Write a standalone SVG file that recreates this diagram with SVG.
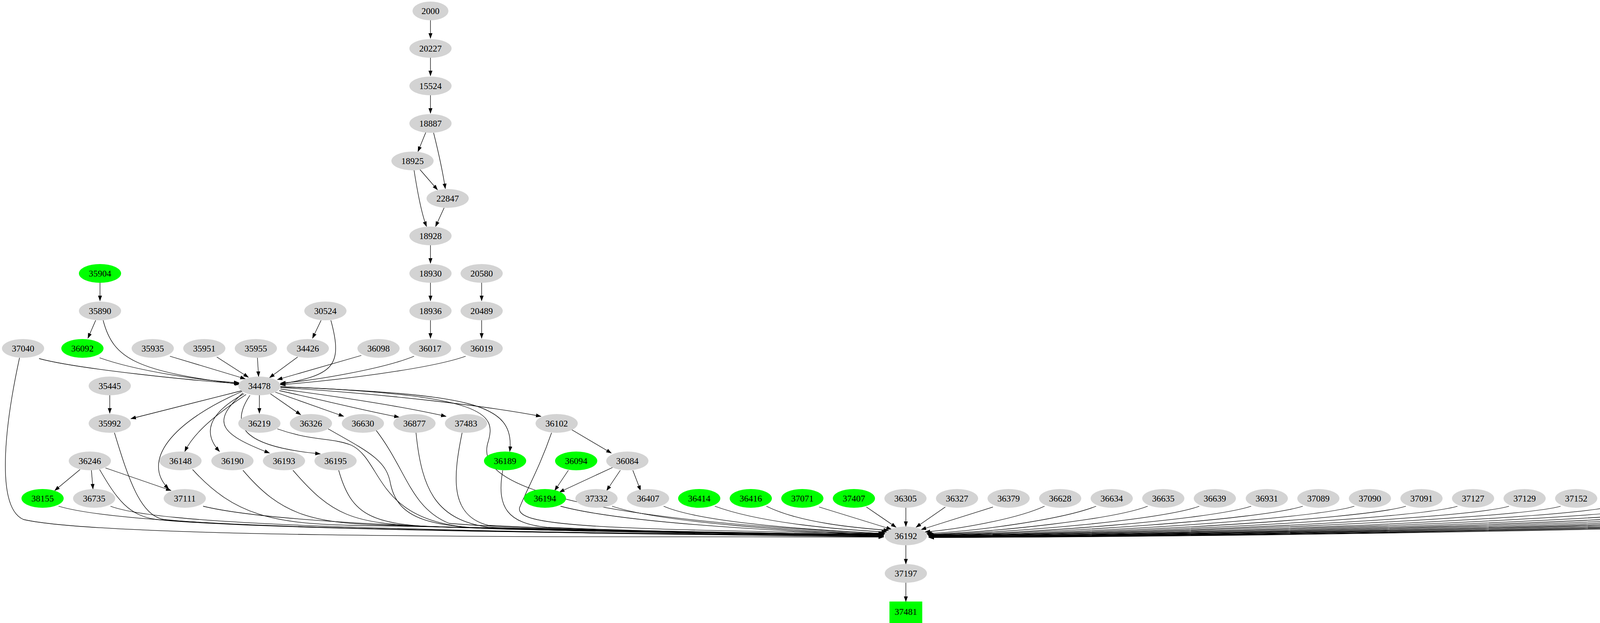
<svg xmlns="http://www.w3.org/2000/svg" width="5678" height="1595" viewBox="0 0 5678 1595">
<style>
.n ellipse{fill:#d3d3d3;stroke:none}
.g ellipse,.g rect{fill:#00ff00;stroke:none}
text{font-family:"Liberation Serif",serif;font-size:23px;text-anchor:middle;fill:#000}
#edges path{fill:none;stroke:#000;stroke-width:1.3;marker-end:url(#ah)}
</style>
<defs>
<marker id="ah" markerUnits="userSpaceOnUse" markerWidth="14" markerHeight="10" refX="13" refY="5" orient="auto"><path d="M0,0 L14,5 L0,10 z" fill="#000"/></marker>
</defs>
<rect width="5678" height="1595" fill="#fff"/>
<g id="edges">
<path d="M1102,52 L1102,98"/>
<path d="M1102,148 L1102,194"/>
<path d="M1102,244 L1102,290"/>
<path d="M1090,339 L1070,388"/>
<path d="M1110,340 C1125,400 1135,450 1140,483"/>
<path d="M1075,434 L1120,486"/>
<path d="M1060,436 C1070,500 1080,550 1092,580"/>
<path d="M1137,532 L1115,580"/>
<path d="M1102,628 L1102,674"/>
<path d="M1102,724 L1102,770"/>
<path d="M1102,820 L1102,866"/>
<path d="M1233,724 L1233,770"/>
<path d="M1233,820 L1233,866"/>
<path d="M256,724 L256,770"/>
<path d="M245,820 L225,866"/>
<path d="M264,820 C290,920 350,950 614,984"/>
<path d="M822,820 L800,866"/>
<path d="M847,820 C880,940 850,960 716,984"/>
<path d="M100,918 C200,945 500,975 612,982"/>
<path d="M255,916 C350,950 520,975 612,980"/>
<path d="M435,912 L628,970"/>
<path d="M555,914 L636,966"/>
<path d="M659,916 L662,964"/>
<path d="M762,914 L690,967"/>
<path d="M925,910 L710,972"/>
<path d="M1060,912 C980,945 800,975 718,981"/>
<path d="M1192,912 C1100,945 850,975 718,985"/>
<path d="M281,1012 L281,1058"/>
<path d="M620,1000 C500,1030 400,1055 335,1072"/>
<path d="M664,1012 L664,1058"/>
<path d="M692,1008 L770,1062"/>
<path d="M705,1004 L880,1066"/>
<path d="M715,1000 C850,1030 950,1055 1022,1068"/>
<path d="M718,996 C900,1020 1050,1045 1142,1066"/>
<path d="M718,992 C1000,1010 1250,1040 1385,1066"/>
<path d="M630,1010 C570,1050 500,1100 473,1156"/>
<path d="M625,1008 C530,1060 520,1110 562,1156"/>
<path d="M622,1006 C540,1080 560,1110 690,1160"/>
<path d="M640,1012 C580,1100 640,1145 820,1162"/>
<path d="M718,990 C1200,1010 1320,1030 1305,1156"/>
<path d="M620,1002 C440,1080 360,1180 432,1252"/>
<path d="M1460,1098 L1565,1160"/>
<path d="M1570,1196 L1432,1260"/>
<path d="M1455,1204 L1420,1256"/>
<path d="M1588,1204 L1553,1256"/>
<path d="M1620,1204 L1640,1256"/>
<path d="M205,1202 L140,1256"/>
<path d="M234,1204 L238,1252"/>
<path d="M270,1198 L438,1256"/>
<path d="M2319,1396 L2319,1444"/>
<path d="M2319,1492 L2319,1540"/>
<path d="M718,990 C1250,1010 1270,1060 1250,1130 C1230,1190 1240,1320 2262,1366"/>
<path d="M50,916 C10,1100 -10,1300 60,1330 C300,1385 1800,1372 2262,1375"/>
<path d="M255,1202 C300,1280 330,1320 400,1330 C700,1360 1900,1370 2262,1373"/>
<path d="M293,1108 C330,1230 360,1320 420,1330 C700,1360 1900,1368 2262,1371"/>
<path d="M493,1202 C600,1320 700,1340 900,1345 C1500,1360 2000,1368 2262,1370"/>
<path d="M622,1204 C720,1320 800,1340 1000,1345 C1500,1360 2000,1368 2262,1370"/>
<path d="M750,1204 C850,1320 900,1340 1100,1348 C1500,1360 2000,1368 2262,1369"/>
<path d="M867,1204 C900,1320 950,1345 1150,1350 C1550,1360 2000,1368 2262,1369"/>
<path d="M710,1098 C800,1130 850,1120 900,1140 C980,1180 960,1330 1200,1350 C1600,1362 2000,1368 2262,1368"/>
<path d="M840,1098 C950,1160 990,1180 1000,1240 C1020,1330 1100,1350 1300,1355 C1700,1364 2000,1368 2262,1368"/>
<path d="M960,1098 C1040,1200 1050,1300 1150,1340 C1400,1360 2000,1368 2262,1367"/>
<path d="M1065,1108 C1080,1260 1120,1330 1250,1350 C1600,1362 2000,1367 2262,1367"/>
<path d="M1183,1108 C1160,1220 1150,1320 1250,1345 C1600,1362 2000,1367 2262,1367"/>
<path d="M1287,1204 C1270,1300 1300,1340 1400,1350 C1700,1362 2000,1367 2262,1367"/>
<path d="M1412,1108 C1380,1200 1350,1250 1330,1300 C1320,1345 1500,1355 2262,1366"/>
<path d="M150,1296 C300,1340 800,1360 2262,1374"/>
<path d="M283,1296 C400,1340 900,1360 2262,1373"/>
<path d="M520,1296 C700,1340 1200,1360 2262,1372"/>
<path d="M1435,1296 C1600,1340 2000,1360 2262,1370"/>
<path d="M1567,1296 C1700,1340 2050,1360 2264,1368"/>
<path d="M1699,1296 C1800,1340 2100,1358 2266,1366"/>
<path d="M1830,1296 C1950,1340 2150,1356 2270,1362"/>
<path d="M1962,1296 C2050,1340 2200,1352 2275,1358"/>
<path d="M2097,1298 L2282,1355"/>
<path d="M2218,1298 L2294,1350"/>
<path d="M2319,1300 L2319,1348"/>
<path d="M2420,1298 L2345,1350"/>
<path d="M2542,1298 L2358,1356"/>
<path d="M2674,1296 C2600,1330 2450,1355 2368,1362"/>
<path d="M2806,1296 C2720,1330 2500,1360 2372,1366"/>
<path d="M2938,1296 C2850,1330 2550,1362 2374,1368"/>
<path d="M3070,1296 C2980,1330 2600,1364 2375,1369"/>
<path d="M3203,1296 C3100,1330 2650,1366 2376,1370"/>
<path d="M3335,1296 C3230,1330 2700,1367 2376,1370"/>
<path d="M3467,1296 C3360,1330 2750,1368 2377,1371"/>
<path d="M3599,1296 C3490,1330 2800,1369 2377,1371"/>
<path d="M3731,1296 C3620,1330 2850,1369 2377,1372"/>
<path d="M3863,1296 C3750,1330 2900,1370 2378,1372"/>
<path d="M3995,1296 C3880,1330 2950,1370 2378,1372"/>
<path d="M4127,1296 C4010,1330 3000,1371 2378,1373"/>
<path d="M4258,1296 C4140,1330 3050,1371 2378,1373"/>
<path d="M4390,1296 C4270,1330 3100,1372 2378,1373"/>
<path d="M4522,1296 C4400,1330 3150,1372 2378,1374"/>
<path d="M4654,1296 C4530,1330 3200,1372 2378,1374"/>
<path d="M4786,1296 C4660,1330 3250,1373 2378,1374"/>
<path d="M4918,1296 C4790,1330 3300,1373 2378,1375"/>
<path d="M5050,1296 C4920,1330 3350,1373 2378,1375"/>
<path d="M5182,1296 C5050,1330 3400,1374 2378,1375"/>
<path d="M5314,1296 C5180,1330 3450,1374 2378,1376"/>
<path d="M5446,1296 C5310,1330 3500,1374 2378,1376"/>
<path d="M5578,1296 C5440,1330 3550,1375 2378,1376"/>
</g>
<g id="n2000" class="n"><ellipse cx="1102" cy="28" rx="46" ry="24"/><text x="1102" y="36">2000</text></g>
<g id="n20227" class="n"><ellipse cx="1102" cy="124" rx="54" ry="24"/><text x="1102" y="132">20227</text></g>
<g id="n15524" class="n"><ellipse cx="1102" cy="220" rx="54" ry="24"/><text x="1102" y="228">15524</text></g>
<g id="n18887" class="n"><ellipse cx="1102" cy="316" rx="54" ry="24"/><text x="1102" y="324">18887</text></g>
<g id="n18925" class="n"><ellipse cx="1056" cy="412" rx="54" ry="24"/><text x="1056" y="420">18925</text></g>
<g id="n22847" class="n"><ellipse cx="1146" cy="508" rx="54" ry="24"/><text x="1146" y="516">22847</text></g>
<g id="n18928" class="n"><ellipse cx="1102" cy="604" rx="54" ry="24"/><text x="1102" y="612">18928</text></g>
<g id="n18930" class="n"><ellipse cx="1102" cy="700" rx="54" ry="24"/><text x="1102" y="708">18930</text></g>
<g id="n35904" class="g"><ellipse cx="256" cy="700" rx="54" ry="24"/><text x="256" y="708">35904</text></g>
<g id="n20580" class="n"><ellipse cx="1233" cy="700" rx="54" ry="24"/><text x="1233" y="708">20580</text></g>
<g id="n35890" class="n"><ellipse cx="256" cy="796" rx="54" ry="24"/><text x="256" y="804">35890</text></g>
<g id="n30524" class="n"><ellipse cx="833" cy="796" rx="54" ry="24"/><text x="833" y="804">30524</text></g>
<g id="n18936" class="n"><ellipse cx="1102" cy="796" rx="54" ry="24"/><text x="1102" y="804">18936</text></g>
<g id="n20489" class="n"><ellipse cx="1233" cy="796" rx="54" ry="24"/><text x="1233" y="804">20489</text></g>
<g id="n37040" class="n"><ellipse cx="59" cy="892" rx="54" ry="24"/><text x="59" y="900">37040</text></g>
<g id="n36092" class="g"><ellipse cx="211" cy="892" rx="54" ry="24"/><text x="211" y="900">36092</text></g>
<g id="n35935" class="n"><ellipse cx="391" cy="892" rx="54" ry="24"/><text x="391" y="900">35935</text></g>
<g id="n35951" class="n"><ellipse cx="523" cy="892" rx="54" ry="24"/><text x="523" y="900">35951</text></g>
<g id="n35955" class="n"><ellipse cx="655" cy="892" rx="54" ry="24"/><text x="655" y="900">35955</text></g>
<g id="n34426" class="n"><ellipse cx="788" cy="892" rx="54" ry="24"/><text x="788" y="900">34426</text></g>
<g id="n36098" class="n"><ellipse cx="969" cy="892" rx="54" ry="24"/><text x="969" y="900">36098</text></g>
<g id="n36017" class="n"><ellipse cx="1101" cy="892" rx="54" ry="24"/><text x="1101" y="900">36017</text></g>
<g id="n36019" class="n"><ellipse cx="1233" cy="892" rx="54" ry="24"/><text x="1233" y="900">36019</text></g>
<g id="n35445" class="n"><ellipse cx="281" cy="988" rx="54" ry="24"/><text x="281" y="996">35445</text></g>
<g id="n34478" class="n"><ellipse cx="664" cy="988" rx="54" ry="24"/><text x="664" y="996">34478</text></g>
<g id="n35992" class="n"><ellipse cx="281" cy="1084" rx="54" ry="24"/><text x="281" y="1092">35992</text></g>
<g id="n36219" class="n"><ellipse cx="664" cy="1084" rx="54" ry="24"/><text x="664" y="1092">36219</text></g>
<g id="n36326" class="n"><ellipse cx="796" cy="1084" rx="54" ry="24"/><text x="796" y="1092">36326</text></g>
<g id="n36630" class="n"><ellipse cx="929" cy="1084" rx="54" ry="24"/><text x="929" y="1092">36630</text></g>
<g id="n36877" class="n"><ellipse cx="1061" cy="1084" rx="54" ry="24"/><text x="1061" y="1092">36877</text></g>
<g id="n37483" class="n"><ellipse cx="1193" cy="1084" rx="54" ry="24"/><text x="1193" y="1092">37483</text></g>
<g id="n36102" class="n"><ellipse cx="1425" cy="1084" rx="54" ry="24"/><text x="1425" y="1092">36102</text></g>
<g id="n36246" class="n"><ellipse cx="230" cy="1180" rx="54" ry="24"/><text x="230" y="1188">36246</text></g>
<g id="n36148" class="n"><ellipse cx="462" cy="1180" rx="54" ry="24"/><text x="462" y="1188">36148</text></g>
<g id="n36190" class="n"><ellipse cx="595" cy="1180" rx="54" ry="24"/><text x="595" y="1188">36190</text></g>
<g id="n36193" class="n"><ellipse cx="727" cy="1180" rx="54" ry="24"/><text x="727" y="1188">36193</text></g>
<g id="n36195" class="n"><ellipse cx="859" cy="1180" rx="54" ry="24"/><text x="859" y="1188">36195</text></g>
<g id="n36189" class="g"><ellipse cx="1293" cy="1180" rx="54" ry="24"/><text x="1293" y="1188">36189</text></g>
<g id="n36094" class="g"><ellipse cx="1475" cy="1180" rx="54" ry="24"/><text x="1475" y="1188">36094</text></g>
<g id="n36084" class="n"><ellipse cx="1606" cy="1180" rx="54" ry="24"/><text x="1606" y="1188">36084</text></g>
<g id="n38155" class="g"><ellipse cx="109" cy="1276" rx="54" ry="24"/><text x="109" y="1284">38155</text></g>
<g id="n36735" class="n"><ellipse cx="241" cy="1276" rx="54" ry="24"/><text x="241" y="1284">36735</text></g>
<g id="n37111" class="n"><ellipse cx="473" cy="1276" rx="54" ry="24"/><text x="473" y="1284">37111</text></g>
<g id="n36194" class="g"><ellipse cx="1395" cy="1276" rx="54" ry="24"/><text x="1395" y="1284">36194</text></g>
<g id="n37332" class="n"><ellipse cx="1527" cy="1276" rx="54" ry="24"/><text x="1527" y="1284">37332</text></g>
<g id="n36407" class="n"><ellipse cx="1659" cy="1276" rx="54" ry="24"/><text x="1659" y="1284">36407</text></g>
<g id="n36414" class="g"><ellipse cx="1790" cy="1276" rx="54" ry="24"/><text x="1790" y="1284">36414</text></g>
<g id="n36416" class="g"><ellipse cx="1922" cy="1276" rx="54" ry="24"/><text x="1922" y="1284">36416</text></g>
<g id="n37071" class="g"><ellipse cx="2054" cy="1276" rx="54" ry="24"/><text x="2054" y="1284">37071</text></g>
<g id="n37407" class="g"><ellipse cx="2186" cy="1276" rx="54" ry="24"/><text x="2186" y="1284">37407</text></g>
<g id="n36305" class="n"><ellipse cx="2318" cy="1276" rx="54" ry="24"/><text x="2318" y="1284">36305</text></g>
<g id="n36327" class="n"><ellipse cx="2450" cy="1276" rx="54" ry="24"/><text x="2450" y="1284">36327</text></g>
<g id="n36379" class="n"><ellipse cx="2582" cy="1276" rx="54" ry="24"/><text x="2582" y="1284">36379</text></g>
<g id="n36628" class="n"><ellipse cx="2714" cy="1276" rx="54" ry="24"/><text x="2714" y="1284">36628</text></g>
<g id="n36634" class="n"><ellipse cx="2846" cy="1276" rx="54" ry="24"/><text x="2846" y="1284">36634</text></g>
<g id="n36635" class="n"><ellipse cx="2978" cy="1276" rx="54" ry="24"/><text x="2978" y="1284">36635</text></g>
<g id="n36639" class="n"><ellipse cx="3110" cy="1276" rx="54" ry="24"/><text x="3110" y="1284">36639</text></g>
<g id="n36931" class="n"><ellipse cx="3243" cy="1276" rx="54" ry="24"/><text x="3243" y="1284">36931</text></g>
<g id="n37089" class="n"><ellipse cx="3375" cy="1276" rx="54" ry="24"/><text x="3375" y="1284">37089</text></g>
<g id="n37090" class="n"><ellipse cx="3507" cy="1276" rx="54" ry="24"/><text x="3507" y="1284">37090</text></g>
<g id="n37091" class="n"><ellipse cx="3639" cy="1276" rx="54" ry="24"/><text x="3639" y="1284">37091</text></g>
<g id="n37127" class="n"><ellipse cx="3771" cy="1276" rx="54" ry="24"/><text x="3771" y="1284">37127</text></g>
<g id="n37129" class="n"><ellipse cx="3903" cy="1276" rx="54" ry="24"/><text x="3903" y="1284">37129</text></g>
<g id="n37152" class="n"><ellipse cx="4035" cy="1276" rx="54" ry="24"/><text x="4035" y="1284">37152</text></g>
<g id="n37161" class="n"><ellipse cx="4167" cy="1276" rx="54" ry="24"/><text x="4167" y="1284">37161</text></g>
<g id="n37165" class="n"><ellipse cx="4298" cy="1276" rx="54" ry="24"/><text x="4298" y="1284">37165</text></g>
<g id="n37377" class="n"><ellipse cx="4430" cy="1276" rx="54" ry="24"/><text x="4430" y="1284">37377</text></g>
<g id="n37385" class="n"><ellipse cx="4562" cy="1276" rx="54" ry="24"/><text x="4562" y="1284">37385</text></g>
<g id="n37429" class="n"><ellipse cx="4694" cy="1276" rx="54" ry="24"/><text x="4694" y="1284">37429</text></g>
<g id="n37536" class="n"><ellipse cx="4826" cy="1276" rx="54" ry="24"/><text x="4826" y="1284">37536</text></g>
<g id="n37553" class="n"><ellipse cx="4958" cy="1276" rx="54" ry="24"/><text x="4958" y="1284">37553</text></g>
<g id="n37612" class="n"><ellipse cx="5090" cy="1276" rx="54" ry="24"/><text x="5090" y="1284">37612</text></g>
<g id="n37614" class="n"><ellipse cx="5222" cy="1276" rx="54" ry="24"/><text x="5222" y="1284">37614</text></g>
<g id="n38030" class="n"><ellipse cx="5354" cy="1276" rx="54" ry="24"/><text x="5354" y="1284">38030</text></g>
<g id="n38065" class="n"><ellipse cx="5486" cy="1276" rx="54" ry="24"/><text x="5486" y="1284">38065</text></g>
<g id="n38325" class="n"><ellipse cx="5618" cy="1276" rx="54" ry="24"/><text x="5618" y="1284">38325</text></g>
<g id="n36192" class="n"><ellipse cx="2319" cy="1372" rx="54" ry="24"/><text x="2319" y="1380">36192</text></g>
<g id="n37197" class="n"><ellipse cx="2319" cy="1468" rx="54" ry="24"/><text x="2319" y="1476">37197</text></g>
<g id="n37481" class="g"><rect x="2277" y="1540" width="84" height="55"/><text x="2319" y="1574">37481</text></g>
</svg>
